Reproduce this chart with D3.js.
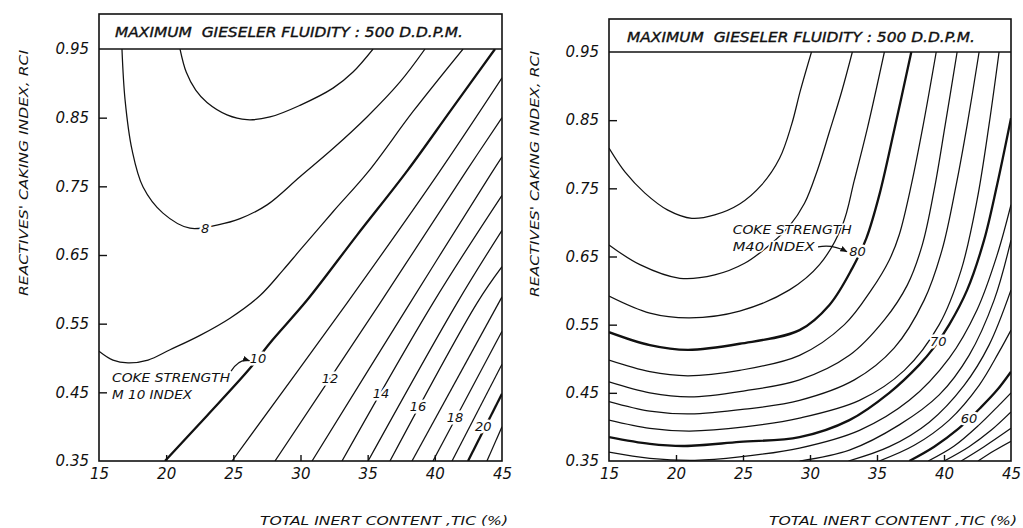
<!DOCTYPE html>
<html>
<head>
<meta charset="utf-8">
<script src="https://cdn.jsdelivr.net/npm/d3@7"></script>
<style>
  body { margin: 0; background: #fff; }
  text { font-family: 'DejaVu Sans', sans-serif; font-style: italic; fill: #111; }
</style>
</head>
<body>
<svg id="chart" width="1023" height="528"></svg>
<script>
// axis ticks
const ticTicks = [15, 20, 25, 30, 35, 40, 45];
const rciTicks = [0.35, 0.45, 0.55, 0.65, 0.75, 0.85, 0.95];
const headerText = 'MAXIMUM  GIESELER FLUIDITY : 500 D.D.P.M.';
const yTitle = "REACTIVES' CAKING INDEX, RCI";
const xTitle = 'TOTAL INERT CONTENT ,TIC (%)';

// left panel: M10 contours, points are [TIC, RCI]
const m10_7 = [[21.03, 0.95], [21.5, 0.916], [22.2, 0.89], [23.04, 0.872], [24.53, 0.854], [26.02, 0.847], [27.73, 0.851], [29.96, 0.868], [32.42, 0.893], [33.91, 0.9165], [35.4, 0.95]];
const m10_8 = [[16.71, 0.95], [16.94, 0.876], [17.46, 0.803], [18.28, 0.749], [19.76, 0.711], [21.77, 0.689], [23.86, 0.694], [25.5, 0.703], [27.51, 0.723], [29.96, 0.764], [32.42, 0.805], [34.95, 0.851], [37.41, 0.902], [39.27, 0.95]];
const m10_9 = [[15, 0.51], [16.04, 0.497], [17.16, 0.493], [18.65, 0.497], [20.29, 0.512], [22.52, 0.533], [24.75, 0.558], [26.99, 0.591], [28.7, 0.628], [29.96, 0.657], [32.42, 0.713], [35.03, 0.771], [38.38, 0.859], [42.1, 0.95]];
const m10_10 = [[19.91, 0.35], [23.04, 0.416], [26.24, 0.485], [27.73, 0.522], [30.48, 0.584], [34.21, 0.679], [38.0, 0.774], [41.2, 0.861], [44.48, 0.95]];
const m10_11 = [[24.9, 0.35], [33.46, 0.58], [40.16, 0.766], [45, 0.908]];
const m10_12 = [[28.1, 0.35], [35.92, 0.58], [42.4, 0.774], [45, 0.85]];
const m10_13 = [[30.86, 0.35], [38.15, 0.58], [44.11, 0.766], [45, 0.793]];
const m10_14 = [[33.09, 0.35], [39.86, 0.58], [45, 0.737]];
const m10_15 = [[35.03, 0.35], [41.65, 0.58], [45, 0.686]];
const m10_16 = [[36.66, 0.35], [43.14, 0.58], [45, 0.633]];
const m10_17 = [[38.3, 0.35], [45, 0.589]];
const m10_18 = [[39.86, 0.35], [45, 0.539]];
const m10_19 = [[41.28, 0.35], [45, 0.491]];
const m10_20 = [[42.47, 0.35], [45, 0.448]];
const m10_21 = [[43.88, 0.35], [45, 0.4]];
const m10Labels = [['8', 22.9, 0.689], ['10', 26.84, 0.5], ['12', 32.2, 0.471], ['14', 36.0, 0.448], ['16', 38.75, 0.43], ['18', 41.5, 0.414], ['20', 43.6, 0.4]];

// right panel: M40 contours, points are [TIC, RCI]
const m40_86 = [[15, 0.809], [16.19, 0.774], [17.68, 0.743], [19.39, 0.718], [21.18, 0.706], [22.89, 0.711], [24.75, 0.727], [26.39, 0.755], [27.73, 0.794], [28.62, 0.843], [29.29, 0.894], [30.11, 0.95]];
const m40_84 = [[15, 0.667], [17.31, 0.638], [20.29, 0.618], [22.89, 0.623], [25.12, 0.64], [26.99, 0.667], [28.47, 0.695], [29.59, 0.728], [30.56, 0.777], [31.45, 0.833], [32.35, 0.891], [33.16, 0.95]];
const m40_82 = [[15, 0.592], [18.05, 0.567], [21.03, 0.56], [24.75, 0.57], [28.47, 0.601], [30.71, 0.638], [32.42, 0.696], [33.31, 0.762], [34.28, 0.838], [35.55, 0.95]];
const m40_80 = [[15, 0.539], [18.05, 0.52], [20.88, 0.513], [24.75, 0.522], [29.22, 0.542], [31.45, 0.579], [33.16, 0.633], [34.21, 0.677], [35.17, 0.74], [36.29, 0.836], [37.56, 0.95]];
const m40_78 = [[15, 0.498], [18.05, 0.481], [20.88, 0.475], [24.75, 0.483], [29.22, 0.505], [32.57, 0.55], [34.58, 0.601], [35.92, 0.645], [36.66, 0.682], [37.56, 0.755], [38.45, 0.843], [39.42, 0.95]];
const m40_76 = [[15, 0.466], [18.05, 0.45], [21.03, 0.444], [25.12, 0.453], [29.22, 0.469], [32.94, 0.505], [35.55, 0.557], [37.26, 0.608], [38.38, 0.667], [39.27, 0.748], [40.09, 0.843], [40.98, 0.95]];
const m40_74 = [[15, 0.437], [18.05, 0.423], [21.03, 0.419], [25.12, 0.426], [29.22, 0.439], [33.31, 0.469], [36.29, 0.516], [38.52, 0.586], [39.86, 0.66], [40.91, 0.755], [41.73, 0.843], [42.62, 0.95]];
const m40_72 = [[15, 0.41], [18.05, 0.398], [21.03, 0.394], [25.12, 0.4], [29.22, 0.413], [33.69, 0.439], [37.04, 0.483], [39.64, 0.55], [41.28, 0.63], [42.47, 0.733], [43.36, 0.843], [44.11, 0.95]];
const m40_70 = [[15, 0.385], [18.05, 0.375], [20.66, 0.372], [24.75, 0.378], [29.22, 0.385], [32.94, 0.41], [35.92, 0.45], [38.15, 0.491], [39.27, 0.517], [40.39, 0.55], [41.73, 0.601], [42.99, 0.674], [43.96, 0.755], [45, 0.853]];
const m40_68 = [[15, 0.363], [18.05, 0.354], [21.4, 0.351], [24.75, 0.356], [29.22, 0.369], [33.69, 0.395], [37.41, 0.439], [40.39, 0.501], [42.47, 0.572], [43.96, 0.652], [45, 0.726]];
const m40_66 = [[29.22, 0.35], [32.94, 0.366], [36.66, 0.403], [39.64, 0.447], [41.87, 0.505], [43.74, 0.586], [45, 0.674]];
const m40_64 = [[32.87, 0.35], [35.92, 0.371], [38.9, 0.407], [41.5, 0.461], [43.36, 0.52], [45, 0.601]];
const m40_62 = [[35.17, 0.35], [37.78, 0.373], [40.39, 0.41], [42.62, 0.461], [44.11, 0.51], [45, 0.542]];
const m40_60 = [[37.41, 0.35], [39.27, 0.371], [41.06, 0.397], [42.77, 0.429], [43.96, 0.454], [45, 0.481]];
const m40_58 = [[38.82, 0.35], [40.76, 0.372], [42.62, 0.403], [44.11, 0.432], [45, 0.45]];
const m40_56 = [[40.01, 0.35], [41.87, 0.371], [43.51, 0.395], [45, 0.422]];
const m40_54 = [[41.28, 0.35], [42.99, 0.371], [45, 0.398]];
const m40_52 = [[42.54, 0.35], [43.74, 0.365], [45, 0.379]];
const m40Labels = [['80', 33.54, 0.657], ['70', 39.57, 0.526], ['60', 41.87, 0.412]];

const m10Contours = [
  { level: 7, pts: m10_7 }, { level: 8, pts: m10_8 }, { level: 9, pts: m10_9 },
  { level: 10, pts: m10_10, thick: true }, { level: 11, pts: m10_11 }, { level: 12, pts: m10_12 },
  { level: 13, pts: m10_13 }, { level: 14, pts: m10_14 }, { level: 15, pts: m10_15 },
  { level: 16, pts: m10_16 }, { level: 17, pts: m10_17 }, { level: 18, pts: m10_18 },
  { level: 19, pts: m10_19 }, { level: 20, pts: m10_20, thick: true }, { level: 21, pts: m10_21 }
];
const m40Contours = [
  { level: 86, pts: m40_86 }, { level: 84, pts: m40_84 }, { level: 82, pts: m40_82 },
  { level: 80, pts: m40_80, thick: true }, { level: 78, pts: m40_78 }, { level: 76, pts: m40_76 },
  { level: 74, pts: m40_74 }, { level: 72, pts: m40_72 }, { level: 70, pts: m40_70, thick: true },
  { level: 68, pts: m40_68 }, { level: 66, pts: m40_66 }, { level: 64, pts: m40_64 },
  { level: 62, pts: m40_62 }, { level: 60, pts: m40_60, thick: true }, { level: 58, pts: m40_58 },
  { level: 56, pts: m40_56 }, { level: 54, pts: m40_54 }, { level: 52, pts: m40_52 }
];

const svg = d3.select('#chart');
const defs = svg.append('defs');
defs.append('marker')
  .attr('id', 'arrow')
  .attr('viewBox', '0 0 10 10')
  .attr('refX', 9).attr('refY', 5)
  .attr('markerWidth', 6).attr('markerHeight', 6)
  .attr('orient', 'auto')
  .append('path').attr('d', 'M0,1L10,5L0,9z').attr('fill', '#111');

function halo(sel, w) {
  return sel.attr('stroke', '#fff').attr('stroke-width', w).attr('paint-order', 'stroke')
    .attr('stroke-linejoin', 'round');
}

function drawPanel(p) {
  const x = d3.scaleLinear().domain([15, 45]).range([p.left, p.right]);
  const y = d3.scaleLinear().domain([0.35, 0.95]).range([p.bottom, p.top]);
  const g = svg.append('g');

  defs.append('clipPath').attr('id', 'clip-' + p.id)
    .append('rect')
    .attr('x', p.left).attr('y', p.top)
    .attr('width', p.right - p.left).attr('height', p.bottom - p.top);

  const line = d3.line()
    .x((d) => x(d[0]))
    .y((d) => y(d[1]))
    .curve(d3.curveCatmullRom.alpha(0.5));

  // Contour lines
  g.append('g')
    .attr('clip-path', `url(#clip-${p.id})`)
    .selectAll('path')
    .data(p.contours)
    .join('path')
    .attr('d', (d) => line(d.pts))
    .attr('fill', 'none')
    .attr('stroke', '#111')
    .attr('stroke-width', (d) => (d.thick ? 2.3 : 1.25));

  // Level labels (white halo cuts the line)
  halo(g.selectAll('text.lvl')
    .data(p.labels)
    .join('text')
    .attr('class', 'lvl')
    .attr('x', (d) => x(d[1]))
    .attr('y', (d) => y(d[2]))
    .attr('dy', '0.36em')
    .attr('text-anchor', 'middle')
    .style('font-size', '13px')
    .text((d) => d[0]), 5);

  // Annotation
  const a = p.note;
  halo(g.append('text')
    .attr('x', x(a.x)).attr('y', y(a.y1))
    .attr('textLength', a.w1).attr('lengthAdjust', 'spacingAndGlyphs')
    .style('font-size', '13px')
    .text('COKE STRENGTH'), 3);
  halo(g.append('text')
    .attr('x', x(a.x)).attr('y', y(a.y2))
    .attr('textLength', a.w2).attr('lengthAdjust', 'spacingAndGlyphs')
    .style('font-size', '13px')
    .style('white-space', 'pre')
    .text(a.line2), 3);
  const ax0 = x(a.arrow[0][0]), ay0 = y(a.arrow[0][1]);
  const ax1 = x(a.arrow[1][0]), ay1 = y(a.arrow[1][1]);
  g.append('path')
    .attr('d', `M${ax0},${ay0}Q${(ax0 + ax1) / 2},${Math.min(ay0, ay1) - 3} ${ax1},${ay1}`)
    .attr('fill', 'none').attr('stroke', '#111').attr('stroke-width', 1.2)
    .attr('marker-end', 'url(#arrow)');

  // Frame and header box
  g.append('rect')
    .attr('x', p.left).attr('y', p.boxTop)
    .attr('width', p.right - p.left).attr('height', p.bottom - p.boxTop)
    .attr('fill', 'none').attr('stroke', '#111').attr('stroke-width', 1.6);
  g.append('line')
    .attr('x1', p.left).attr('x2', p.right)
    .attr('y1', y(0.95)).attr('y2', y(0.95))
    .attr('stroke', '#111').attr('stroke-width', 1.6);
  g.append('text')
    .attr('x', p.headX).attr('y', p.headY)
    .attr('textLength', p.headW).attr('lengthAdjust', 'spacingAndGlyphs')
    .attr('stroke', '#111').attr('stroke-width', 0.35)
    .style('font-size', '13.5px')
    .style('white-space', 'pre')
    .text(headerText);

  // Y-Axis
  const ya = g.append('g')
    .attr('transform', `translate(${p.left},0)`)
    .call(d3.axisLeft(y).tickValues(rciTicks).tickFormat(d3.format('.2f'))
      .tickSizeInner(-8).tickSizeOuter(0).tickPadding(10));
  ya.select('.domain').remove();
  ya.selectAll('.tick line').attr('stroke', '#111').attr('stroke-width', 1.4)
    .filter((d) => d === 0.35 || d === 0.95).remove();
  ya.selectAll('.tick text').attr('fill', '#111')
    .style('font-family', "'DejaVu Sans', sans-serif").style('font-size', '15px')
    .style('font-style', 'italic');

  // X-Axis
  const xa = g.append('g')
    .attr('transform', `translate(0,${p.bottom})`)
    .call(d3.axisBottom(x).tickValues(ticTicks).tickFormat(d3.format('d'))
      .tickSizeInner(-6).tickSizeOuter(0).tickPadding(7));
  xa.select('.domain').remove();
  xa.selectAll('.tick line').attr('stroke', '#111').attr('stroke-width', 1.4)
    .filter((d) => d === 15 || d === 45).remove();
  xa.selectAll('.tick text').attr('fill', '#111')
    .style('font-family', "'DejaVu Sans', sans-serif").style('font-size', '15px')
    .style('font-style', 'italic');

  // Axis titles
  g.append('text')
    .attr('transform', `translate(${p.yTitleX},${p.yTitleY}) rotate(-90)`)
    .attr('text-anchor', 'middle')
    .attr('textLength', 246).attr('lengthAdjust', 'spacingAndGlyphs')
    .style('font-size', '13px')
    .text(yTitle);
  g.append('text')
    .attr('x', p.xTitleX).attr('y', 525)
    .attr('textLength', 248).attr('lengthAdjust', 'spacingAndGlyphs')
    .style('font-size', '13px')
    .text(xTitle);
}

drawPanel({
  id: 'm10', left: 99, right: 502, top: 49, bottom: 461, boxTop: 14,
  headX: 115, headY: 37, headW: 348,
  yTitleX: 28, yTitleY: 173, xTitleX: 260,
  contours: m10Contours, labels: m10Labels,
  note: { x: 15.97, y1: 0.465, y2: 0.44, w1: 118, w2: 80, line2: 'M 10 INDEX',
    arrow: [[24.83, 0.481], [26.2, 0.496]] }
});
drawPanel({
  id: 'm40', left: 609, right: 1011, top: 52, bottom: 461, boxTop: 19,
  headX: 627, headY: 42, headW: 348,
  yTitleX: 539, yTitleY: 174, xTitleX: 769,
  contours: m40Contours, labels: m40Labels,
  note: { x: 24.23, y1: 0.683, y2: 0.658, w1: 119, w2: 82, line2: 'M40 INDEX',
    arrow: [[30.6, 0.664], [32.75, 0.657]] }
});
</script>
</body>
</html>
